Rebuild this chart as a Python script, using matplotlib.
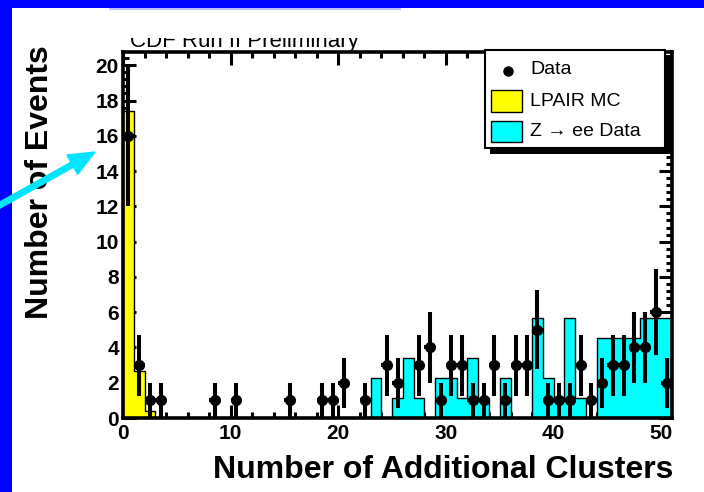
import numpy as np
import matplotlib
matplotlib.use('Agg')
import matplotlib.pyplot as plt
from matplotlib.patches import Rectangle, FancyArrow
from matplotlib.lines import Line2D
from matplotlib.transforms import Affine2D
from matplotlib.ticker import MultipleLocator

plt.rcParams['font.family'] = ['Liberation Sans', 'DejaVu Sans']

# ---------------- data ----------------
bin_edges = list(range(0, 52))  # 51 bins of width 1, 0..51

lpair_mc = [17.4, 2.65, 0.4, 0, 0, 0, 0, 0, 0, 0,
            0, 0, 0, 0, 0, 0, 0, 0, 0, 0,
            0, 0, 0, 0, 0, 0, 0, 0, 0, 0,
            0, 0, 0, 0, 0, 0, 0, 0, 0, 0,
            0, 0, 0, 0, 0, 0, 0, 0, 0, 0,
            0]

zee_data = [0, 0, 0, 0, 0, 0, 0, 0, 0, 0,
            0, 0, 0, 0, 0, 0, 0, 0, 0, 0,
            0, 0, 0, 2.26, 0, 1.13, 3.39, 1.13, 0, 2.26,
            2.26, 1.13, 3.39, 1.13, 0, 2.26, 0, 0, 5.65, 2.26,
            1.13, 5.65, 1.13, 0, 4.52, 4.52, 4.52, 4.52, 5.65, 5.65,
            5.65]

data_bins = [0, 1, 2, 3, 8, 10, 15, 18, 19, 20, 22, 24, 25, 27, 28, 29, 30, 31, 32,
             33, 34, 35, 36, 37, 38, 39, 40, 41, 42, 43, 44, 45, 46, 47, 48, 49, 50]
data_counts = [16, 3, 1, 1, 1, 1, 1, 1, 1, 2, 1, 3, 2, 3, 4, 1, 3, 3, 1,
               1, 3, 1, 3, 3, 5, 1, 1, 1, 3, 1, 2, 3, 3, 4, 4, 6, 2]

x_label = "Number of Additional Clusters"
y_label = "Number of Events"
prelim = "CDF Run II Preliminary"
legend_labels = ["Data", "LPAIR MC", "Z \u2192 ee Data"]

# ---------------- figure ----------------
W, H = 704, 492
fig = plt.figure(figsize=(W / 100, H / 100), dpi=100)
fig.patch.set_facecolor('#0000FF')
P = Affine2D().scale(1.0 / W, -1.0 / H).translate(0, 1) + fig.transFigure  # pixel coords, y down

fig.add_artist(Rectangle((12, 8), W - 12, H - 8, transform=P, facecolor='white',
                         edgecolor='none', zorder=-10))

ax = fig.add_axes([123 / W, 1 - 418 / H, (672 - 123) / W, (418 - 52) / H])
ax.set_xlim(0, 51)
ax.set_ylim(0, 20.75)

edges = np.array(bin_edges, dtype=float)
ax.stairs(zee_data, edges, fill=True, color='#00FFFF', zorder=2)
ax.stairs(zee_data, edges, fill=False, color='black', lw=1.0, baseline=0, zorder=2.1)
ax.stairs(lpair_mc, edges, fill=True, color='#FFFF00', zorder=2)
ax.stairs(lpair_mc, edges, fill=False, color='black', lw=1.0, baseline=0, zorder=2.1)

centers = np.array(data_bins) + 0.5
counts = np.array(data_counts, dtype=float)
ax.errorbar(centers, counts, yerr=np.sqrt(counts), xerr=0.5, fmt='o', color='black',
            ms=7, elinewidth=2.9, capsize=0, zorder=5)

for s in ax.spines.values():
    s.set_linewidth(2.6)
    s.set_zorder(6)
ax.xaxis.set_major_locator(MultipleLocator(10))
ax.xaxis.set_minor_locator(MultipleLocator(2))
ax.yaxis.set_major_locator(MultipleLocator(2))
ax.yaxis.set_minor_locator(MultipleLocator(0.4))
ax.tick_params(which='both', direction='in', top=True, right=True, width=2.2, zorder=6)
ax.tick_params(which='major', length=9.5)
ax.tick_params(which='minor', length=4.5)
ax.tick_params(axis='y', which='major', pad=3, labelsize=15)
ax.tick_params(axis='x', which='major', pad=4, labelsize=15)
for lab in ax.get_xticklabels() + ax.get_yticklabels():
    lab.set_fontweight('bold')

# axis titles
fig.text(673 / W, 1 - 478 / H, x_label, ha='right', va='baseline', fontsize=23,
         fontweight='bold')
fig.text(40 / W, 1 - 182 / H, y_label, ha='center', va='center', rotation=90,
         fontsize=23, fontweight='bold')

# clipped preliminary label (only its lower part shows)
fig.text(130 / W, 1 - 47 / H, prelim, ha='left', va='baseline', fontsize=16, zorder=1)
fig.add_artist(Rectangle((100, 9), 320, 29, transform=P, facecolor='white',
                         edgecolor='none', zorder=2))
fig.add_artist(Line2D([110, 400], [8.5, 8.5], transform=P, color='#B0B0FF', lw=1.2, zorder=3))

# legend (drawn by hand, ROOT style with shadow)
fig.add_artist(Rectangle((490, 55), 182, 99, transform=P, facecolor='black',
                         edgecolor='none', zorder=7))
fig.add_artist(Rectangle((485, 50), 180, 98, transform=P, facecolor='white',
                         edgecolor='black', lw=1.5, zorder=8))
fig.add_artist(Line2D([508], [71], transform=P, marker='o', ms=6.5, color='black',
                      zorder=9))
fig.add_artist(Rectangle((491, 90), 31, 22, transform=P, facecolor='#FFFF00',
                         edgecolor='black', lw=1.0, zorder=9))
fig.add_artist(Rectangle((491, 121), 31, 21, transform=P, facecolor='#00FFFF',
                         edgecolor='black', lw=1.0, zorder=9))
for lab, yy in zip(legend_labels, [70, 101, 132]):
    fig.text(530 / W, 1 - yy / H, lab, ha='left', va='center', fontsize=14, zorder=10)

# cyan arrow pointing at the peak
fig.add_artist(FancyArrow(-5, 207.8, 100, -55.8, width=5.5, head_width=22, head_length=26,
                          length_includes_head=True, transform=P, color='#00E5FF',
                          zorder=11))

fig.savefig('out.png', dpi=100, facecolor=fig.get_facecolor())
